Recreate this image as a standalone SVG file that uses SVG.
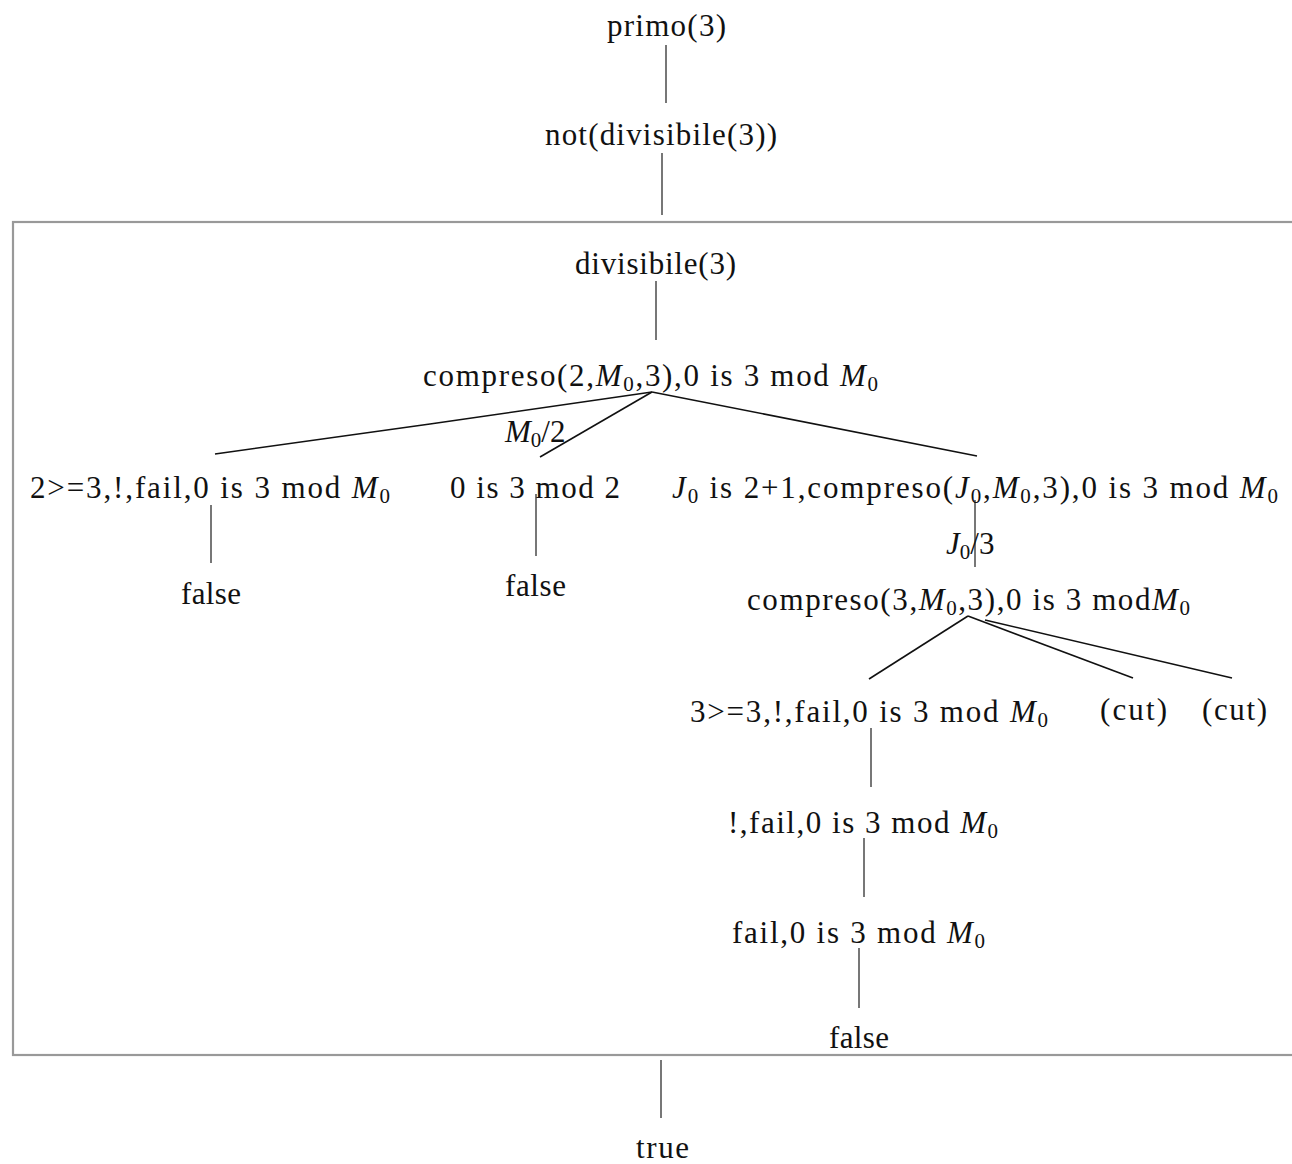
<svg xmlns="http://www.w3.org/2000/svg" width="1292" height="1164" viewBox="0 0 1292 1164">
<style>
text{font-family:"Liberation Serif","DejaVu Serif",serif;font-size:31px;fill:#111;text-anchor:start}
.i{font-style:italic}
.s{font-size:21px}
.v{stroke:#555;stroke-width:1.6;fill:none}
.d{stroke:#111;stroke-width:1.6;fill:none}
.box{fill:none;stroke:#999;stroke-width:2.2}
</style>
<rect width="1292" height="1164" fill="#fff"/>
<rect class="box" x="13" y="222" width="1300" height="833"/>
<g id="connectors">
<line class="v" x1="666" y1="45" x2="666" y2="103"/>
<line class="v" x1="662" y1="153" x2="662" y2="215"/>
<line class="v" x1="656" y1="281" x2="656" y2="340"/>
<polyline class="d" points="652,392 430,424 215,454"/>
<line class="d" x1="652" y1="392" x2="540" y2="457"/>
<line class="d" x1="652" y1="392" x2="977" y2="456"/>
<line class="v" x1="211" y1="505" x2="211" y2="563"/>
<line class="v" x1="536" y1="494" x2="536" y2="556"/>
<line class="v" x1="975" y1="500" x2="975" y2="567"/>
<line class="d" x1="968" y1="616" x2="869" y2="679"/>
<line class="d" x1="968" y1="616" x2="1133" y2="678"/>
<line class="d" x1="985" y1="620" x2="1232" y2="678"/>
<line class="v" x1="871" y1="728" x2="871" y2="787"/>
<line class="v" x1="864" y1="838" x2="864" y2="897"/>
<line class="v" x1="859" y1="948" x2="859" y2="1008"/>
<line class="v" x1="661" y1="1060" x2="661" y2="1118"/>
</g>
<g id="n-primo"><text x="607" y="36" textLength="119">primo(3)</text></g>
<g id="n-not"><text x="545" y="145" textLength="232">not(divisibile(3))</text></g>
<g id="n-divisibile"><text x="575" y="274" textLength="161">divisibile(3)</text></g>
<g id="n-compreso2"><text x="423" y="386" textLength="455">compreso(2,<tspan class="i">M</tspan><tspan class="s" dy="5">0</tspan><tspan dy="-5">,3),0 is 3 mod </tspan><tspan class="i">M</tspan><tspan class="s" dy="5">0</tspan></text></g>
<g id="l-m0-2"><text x="505" y="442"><tspan class="i">M</tspan><tspan class="s" dy="5">0</tspan><tspan dy="-5">/2</tspan></text></g>
<g id="n-2ge3"><text x="30" y="498" textLength="360">2&gt;=3,!,fail,0 is 3 mod <tspan class="i">M</tspan><tspan class="s" dy="5">0</tspan></text></g>
<g id="n-0is3mod2"><text x="450" y="498" textLength="170">0 is 3 mod 2</text></g>
<g id="n-j0"><text x="672" y="498" textLength="606"><tspan class="i">J</tspan><tspan class="s" dy="5">0</tspan><tspan dy="-5"> is 2+1,compreso(</tspan><tspan class="i">J</tspan><tspan class="s" dy="5">0</tspan><tspan dy="-5">,</tspan><tspan class="i">M</tspan><tspan class="s" dy="5">0</tspan><tspan dy="-5">,3),0 is 3 mod </tspan><tspan class="i">M</tspan><tspan class="s" dy="5">0</tspan></text></g>
<g id="n-false1"><text x="181" y="604" textLength="60">false</text></g>
<g id="n-false2"><text x="505" y="596" textLength="61">false</text></g>
<g id="l-j0-3"><text x="946" y="554"><tspan class="i">J</tspan><tspan class="s" dy="5">0</tspan><tspan dy="-5">/3</tspan></text></g>
<g id="n-compreso3"><text x="747" y="610" textLength="443">compreso(3,<tspan class="i">M</tspan><tspan class="s" dy="5">0</tspan><tspan dy="-5">,3),0 is 3 mod</tspan><tspan class="i">M</tspan><tspan class="s" dy="5">0</tspan></text></g>
<g id="n-3ge3"><text x="690" y="722" textLength="358">3&gt;=3,!,fail,0 is 3 mod <tspan class="i">M</tspan><tspan class="s" dy="5">0</tspan></text></g>
<g id="n-cut1"><text x="1100" y="720" textLength="67">(cut)</text></g>
<g id="n-cut2"><text x="1202" y="720" textLength="65">(cut)</text></g>
<g id="n-cutfail"><text x="728" y="833" textLength="270">!,fail,0 is 3 mod <tspan class="i">M</tspan><tspan class="s" dy="5">0</tspan></text></g>
<g id="n-fail"><text x="732" y="943" textLength="253">fail,0 is 3 mod <tspan class="i">M</tspan><tspan class="s" dy="5">0</tspan></text></g>
<g id="n-false3"><text x="829" y="1048" textLength="60">false</text></g>
<g id="n-true"><text x="636" y="1158" textLength="53">true</text></g>
</svg>
